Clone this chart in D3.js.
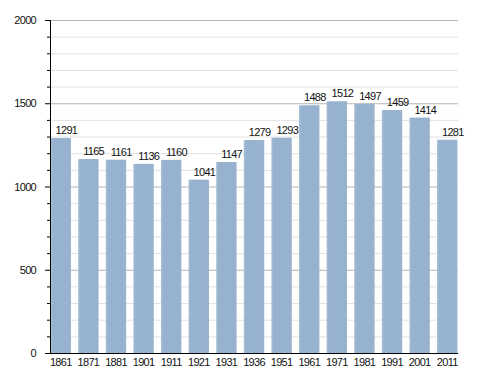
<!DOCTYPE html>
<html>
<head>
<meta charset="utf-8">
<script src="https://cdn.jsdelivr.net/npm/d3@7"></script>
<style>
  html, body { margin: 0; padding: 0; background: #fff; }
  svg { display: block; }
  text { font-family: "Liberation Sans", Arial, sans-serif; fill: #111; }
</style>
</head>
<body>
<div id="chart"></div>
<script>
const years = ["1861", "1871", "1881", "1901", "1911", "1921", "1931", "1936", "1951", "1961", "1971", "1981", "1991", "2001", "2011"];
const population = [1291, 1165, 1161, 1136, 1160, 1041, 1147, 1279, 1293, 1488, 1512, 1497, 1459, 1414, 1281];
const majorTicks = [0, 500, 1000, 1500, 2000];
const minorTicks = d3.range(0, 2001, 100);

const FONT = "'Liberation Sans', Arial, sans-serif";
const width = 488, height = 373;
const margin = { top: 20, right: 30, bottom: 20, left: 50 };
const innerW = width - margin.left - margin.right;
const innerH = height - margin.top - margin.bottom;

const svg = d3.select("#chart").append("svg")
    .attr("width", width)
    .attr("height", height);

const defs = svg.append("defs");
const grad = defs.append("linearGradient").attr("id", "barGrad")
    .attr("x1", "0%").attr("x2", "100%").attr("y1", "0%").attr("y2", "0%");
grad.append("stop").attr("offset", "0%").attr("stop-color", "#a9c0d8");
grad.append("stop").attr("offset", "12%").attr("stop-color", "#97b2ce");
grad.append("stop").attr("offset", "88%").attr("stop-color", "#97b2ce");
grad.append("stop").attr("offset", "100%").attr("stop-color", "#9cb5cf");

const g = svg.append("g").attr("transform", `translate(${margin.left},${margin.top})`);

const x = d3.scaleBand().domain(years).range([0, innerW]).paddingInner(0.26).paddingOuter(0.02);
const y = d3.scaleLinear().domain([0, 2000]).range([innerH, 0]);

// grid
g.append("g").selectAll("line.minor")
    .data(minorTicks.filter(d => d % 500 !== 0))
    .enter().append("line")
    .attr("x1", 0).attr("x2", innerW)
    .attr("y1", d => y(d) + 0.5).attr("y2", d => y(d) + 0.5)
    .attr("stroke", "#e2e2e2");

g.append("g").selectAll("line.major")
    .data(majorTicks.filter(d => d > 0))
    .enter().append("line")
    .attr("x1", 0).attr("x2", innerW)
    .attr("y1", d => y(d) + 0.5).attr("y2", d => y(d) + 0.5)
    .attr("stroke", "#b4b4b4");

// bars
g.append("g").selectAll("rect")
    .data(years)
    .enter().append("rect")
    .attr("x", d => x(d))
    .attr("y", (d, i) => y(population[i]))
    .attr("width", x.bandwidth())
    .attr("height", (d, i) => innerH - y(population[i]))
    .attr("fill", "url(#barGrad)");

// value labels (left-aligned a little inside the bar, as in the original)
g.append("g").selectAll("text")
    .data(years)
    .enter().append("text")
    .attr("x", d => x(d) + 5)
    .attr("y", (d, i) => y(population[i]) - 4)
    .attr("text-anchor", "start")
    .style("font-size", "11px")
    .style("letter-spacing", "-0.7px")
    .style("font-family", FONT)
    .text((d, i) => population[i]);

// y axis
const yAxis = g.append("g")
    .call(d3.axisLeft(y).tickValues(majorTicks).tickSize(5).tickPadding(9).tickFormat(d3.format("d")));
yAxis.select(".domain").attr("stroke", "#000").attr("d", `M0.5,0V${innerH}`);
yAxis.selectAll("text").style("font-size", "11px").style("letter-spacing", "-0.7px").attr("fill", "#111").style("font-family", FONT);
yAxis.selectAll(".tick line").attr("stroke", "#000");

g.append("g").selectAll("line")
    .data(minorTicks.filter(d => d % 500 !== 0))
    .enter().append("line")
    .attr("x1", -3).attr("x2", 0)
    .attr("y1", d => y(d) + 0.5).attr("y2", d => y(d) + 0.5)
    .attr("stroke", "#000");

// x axis
const xAxis = g.append("g").attr("transform", `translate(0,${innerH})`)
    .call(d3.axisBottom(x).tickSize(0).tickPadding(5));
xAxis.select(".domain").attr("stroke", "#000").attr("d", `M0,0.5H${innerW}`);
xAxis.selectAll("text").style("font-size", "11px").style("letter-spacing", "-0.7px").attr("fill", "#111").style("font-family", FONT);
</script>
</body>
</html>
